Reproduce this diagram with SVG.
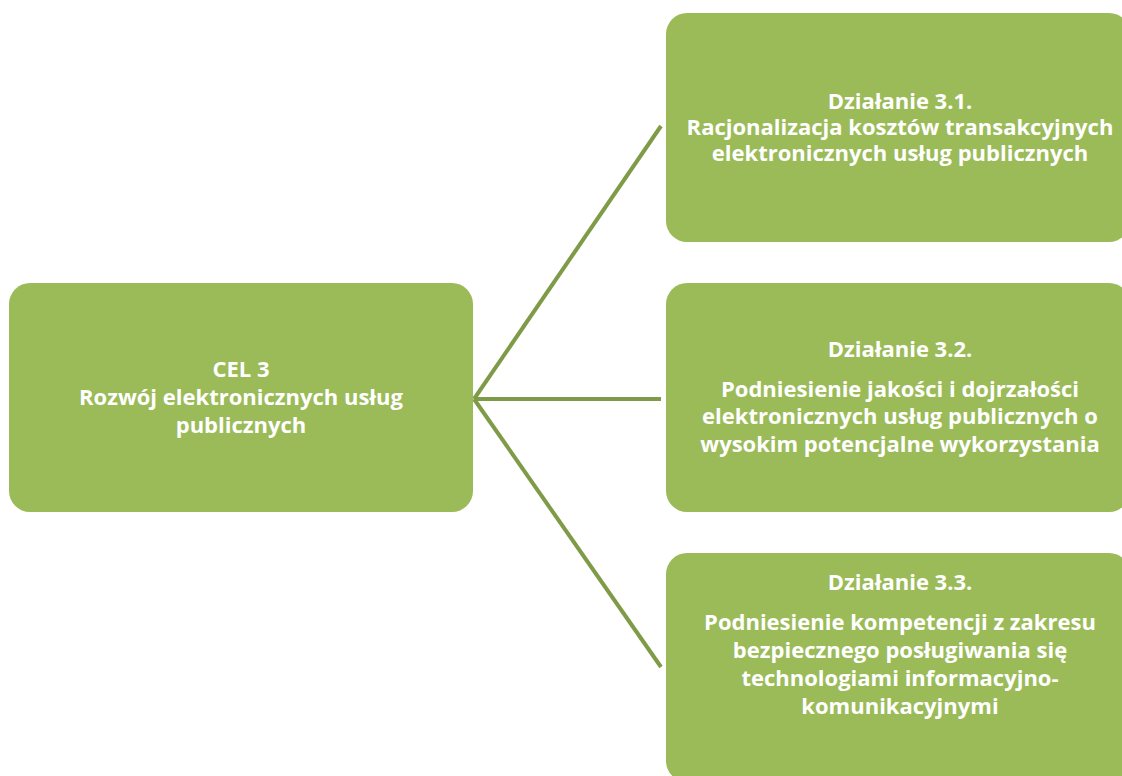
<svg xmlns="http://www.w3.org/2000/svg" width="1122" height="776" viewBox="0 0 1122 776">
<style>
.box{fill:#9bbb59;}
.t{font-family:"Open Sans","Noto Sans",sans-serif;font-weight:bold;font-size:22px;fill:#ffffff;text-anchor:middle;}
.c{stroke:#7f9b47;stroke-width:4;fill:none;}
</style>
<rect width="1122" height="776" fill="#ffffff"/>
<g id="connectors">
<line class="c" x1="474" y1="399" x2="661" y2="126"/>
<line class="c" x1="474" y1="399" x2="661" y2="399"/>
<line class="c" x1="474" y1="399" x2="661" y2="667"/>
</g>
<g id="cel3">
<rect class="box" x="9" y="283" width="464" height="229" rx="21"/>
<text class="t" x="241" y="377">CEL 3</text>
<text class="t" x="241" y="405">Rozwój elektronicznych usług</text>
<text class="t" x="241" y="433">publicznych</text>
</g>
<g id="dzialanie31">
<rect class="box" x="666" y="13" width="464" height="229" rx="21"/>
<text class="t" x="900" y="109">Działanie 3.1.</text>
<text class="t" x="900" y="135">Racjonalizacja kosztów transakcyjnych</text>
<text class="t" x="900" y="161">elektronicznych usług publicznych</text>
</g>
<g id="dzialanie32">
<rect class="box" x="666" y="283" width="464" height="229" rx="21"/>
<text class="t" x="900" y="357">Działanie 3.2.</text>
<text class="t" x="900" y="397">Podniesienie jakości i dojrzałości</text>
<text class="t" x="900" y="424">elektronicznych usług publicznych o</text>
<text class="t" x="900" y="452">wysokim potencjalne wykorzystania</text>
</g>
<g id="dzialanie33">
<rect class="box" x="666" y="553" width="464" height="229" rx="21"/>
<text class="t" x="900" y="590">Działanie 3.3.</text>
<text class="t" x="900" y="630">Podniesienie kompetencji z zakresu</text>
<text class="t" x="900" y="658">bezpiecznego posługiwania się</text>
<text class="t" x="900" y="686">technologiami informacyjno-</text>
<text class="t" x="900" y="714">komunikacyjnymi</text>
</g>
</svg>
